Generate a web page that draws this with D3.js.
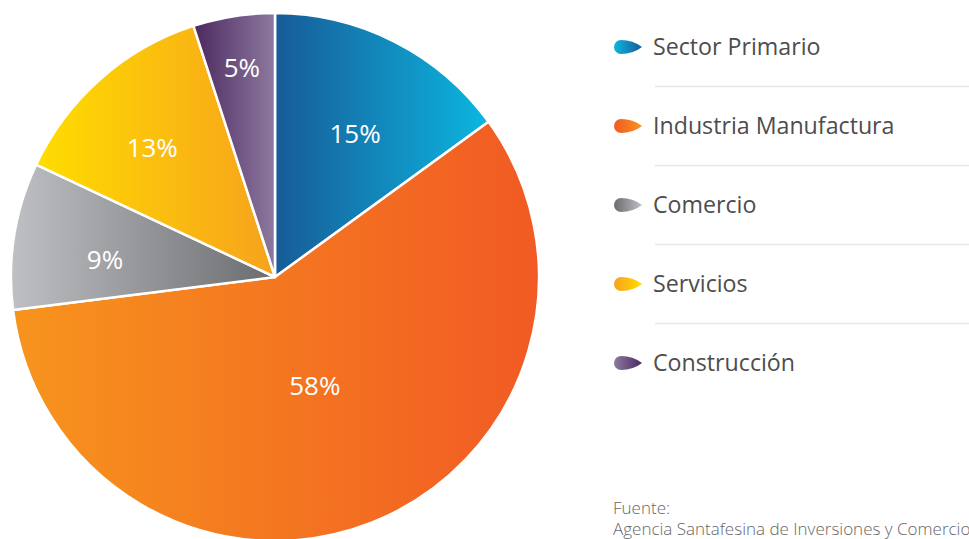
<!DOCTYPE html>
<html><head><meta charset="utf-8">
<script src="https://cdn.jsdelivr.net/npm/d3@7/dist/d3.min.js"></script>
<style>
html,body{margin:0;padding:0;background:#fff;overflow:hidden;}
svg{display:block;font-family:"Open Sans",sans-serif;}
</style></head><body>
<svg id="c" width="969" height="539"></svg>
<script>
const categories = ["Sector Primario","Industria Manufactura","Comercio","Servicios","Construcción"];
const values = [15, 58, 9, 13, 5];
const labels = ["15%","58%","9%","13%","5%"];
const gradStart = ["#185b97","#f7941d","#bfc0c3","#ffdd00","#4c2860"];
const gradEnd   = ["#0cb6e0","#f15a24","#6b6c70","#f7a21d","#8d7a9f"];
const sourceLines = ["Fuente:","Agencia Santafesina de Inversiones y Comercio"];

const svg = d3.select("#c");
const defs = svg.append("defs");
const cx = 275, cy = 277, R = 264;
const labelR = [164, 116, 171, 178, 212];
const labelShift = [2.2, 1.5, -3, -2.2, 0]; // degrees

categories.forEach((c,i)=>{
  const g = defs.append("linearGradient").attr("id","g"+i).attr("x1","0").attr("x2","1").attr("y1","0").attr("y2","0");
  g.append("stop").attr("offset","0").attr("stop-color",gradStart[i]);
  g.append("stop").attr("offset","1").attr("stop-color",gradEnd[i]);
  const m = defs.append("linearGradient").attr("id","m"+i).attr("x1","0").attr("x2","1").attr("y1","0").attr("y2","0");
  m.append("stop").attr("offset","0").attr("stop-color",gradEnd[i]);
  m.append("stop").attr("offset","1").attr("stop-color",gradStart[i]);
});

const pie = d3.pie().sort(null).value(d=>d)(values);
const arc = d3.arc().innerRadius(0).outerRadius(R);
const gp = svg.append("g").attr("transform",`translate(${cx},${cy})`);
gp.selectAll("path").data(pie).join("path")
  .attr("d",arc)
  .attr("fill",(d,i)=>`url(#g${i})`)
  .attr("stroke","#fff").attr("stroke-width",2.5).attr("stroke-linejoin","round");
gp.selectAll("text").data(pie).join("text")
  .attr("transform",(d,i)=>{
    const a=(d.startAngle+d.endAngle)/2 + labelShift[i]*Math.PI/180;
    return `translate(${Math.sin(a)*labelR[i]},${-Math.cos(a)*labelR[i]})`;
  })
  .attr("text-anchor","middle").attr("dy","0.36em")
  .attr("fill","#fff").attr("font-size",26)
  .text((d,i)=>labels[i]);

// legend
const ly = d3.scalePoint().domain(categories).range([47,363]);
const lg = svg.append("g");
categories.slice(1).forEach((c,i)=>{
  const y = (ly(categories[i])+ly(c))/2;
  lg.append("line").attr("x1",655).attr("x2",969).attr("y1",y).attr("y2",y)
    .attr("stroke","#e6e6e6").attr("stroke-width",1.5);
});
categories.forEach((c,i)=>{
  const y = ly(c), x0 = 621, r = 7;
  lg.append("path")
    .attr("d",`M${x0},${y-r} Q${x0+12},${y-r} ${x0+21},${y} Q${x0+12},${y+r} ${x0},${y+r} A${r},${r} 0 0 1 ${x0},${y-r} Z`)
    .attr("fill",`url(#m${i})`);
  lg.append("text").attr("x",653).attr("y",y).attr("dy","0.36em")
    .attr("font-size",23.2).attr("fill","#4d4d4d").text(c);
});
svg.selectAll("text.src").data(sourceLines).join("text").attr("class","src")
  .attr("x",613).attr("y",(d,i)=>514+i*21)
  .attr("font-size",17).attr("font-weight",300).attr("fill","#666").text(d=>d);
</script></body></html>
